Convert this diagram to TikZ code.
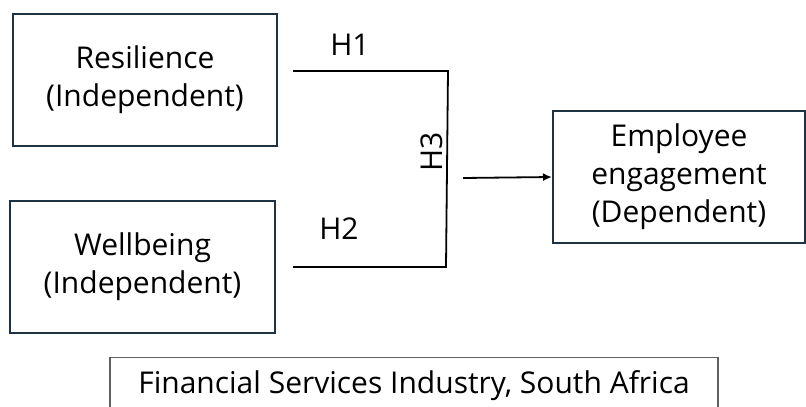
\documentclass[tikz,border=0pt]{standalone}
\usepackage{fontspec}
\setmainfont{Open Sans}
\usepackage{tikz}
\usetikzlibrary{arrows.meta}
\definecolor{boxblue}{RGB}{30,50,68}
\definecolor{boxgrey}{RGB}{95,95,95}
\def\varfont{\fontsize{30}{38}\selectfont}

\begin{document}
\begin{tikzpicture}[x=1pt,y=-1pt,line width=1.8pt]
    \tikzstyle{var box}=[draw=boxblue,line width=2pt,minimum height=132pt,align=center,font=\varfont,inner sep=0pt]
    \tikzstyle{context box}=[draw=boxgrey,line width=1.2pt,minimum width=608pt,text height=36pt,text depth=40pt,font=\varfont,inner sep=0pt]
    \tikzstyle{hyp}=[font=\varfont,inner sep=0pt]

    \useasboundingbox (0,0) rectangle (806,407);
    \clip (0,0) rectangle (806,407);

    % Draw the variable boxes
    \node[var box, minimum width=264pt] (res) at (145,80) {Resilience\\(Independent)};
    \node[var box, minimum width=265pt] (well) at (142.5,267) {Wellbeing\\(Independent)};
    \node[var box, minimum width=252pt] (emp) at (679,177) {Employee\\engagement\\(Dependent)};

    % Context box, cut off at the bottom
    \node[context box, anchor=north] (ctx) at (414,357) {Financial Services Industry, South Africa};

    % Hypothesis lines
    \coordinate (h1s) at (293,71);
    \coordinate (h1e) at (448,71);
    \coordinate (h2s) at (293,267);
    \coordinate (h2e) at (446,267);
    \coordinate (arr) at (463,178);
    \draw (h1s) -- (h1e) -- (h2e) -- (h2s);
    \draw[-{Latex[length=9pt,width=8pt]}] (arr) -- (emp.west);

    % Annotate the hypotheses
    \node[hyp] (hone) at (350,45) {H1};
    \node[hyp] (htwo) at (339,229) {H2};
    \node[hyp, rotate=90] (hthree) at (432,152) {H3};
\end{tikzpicture}
\end{document}
